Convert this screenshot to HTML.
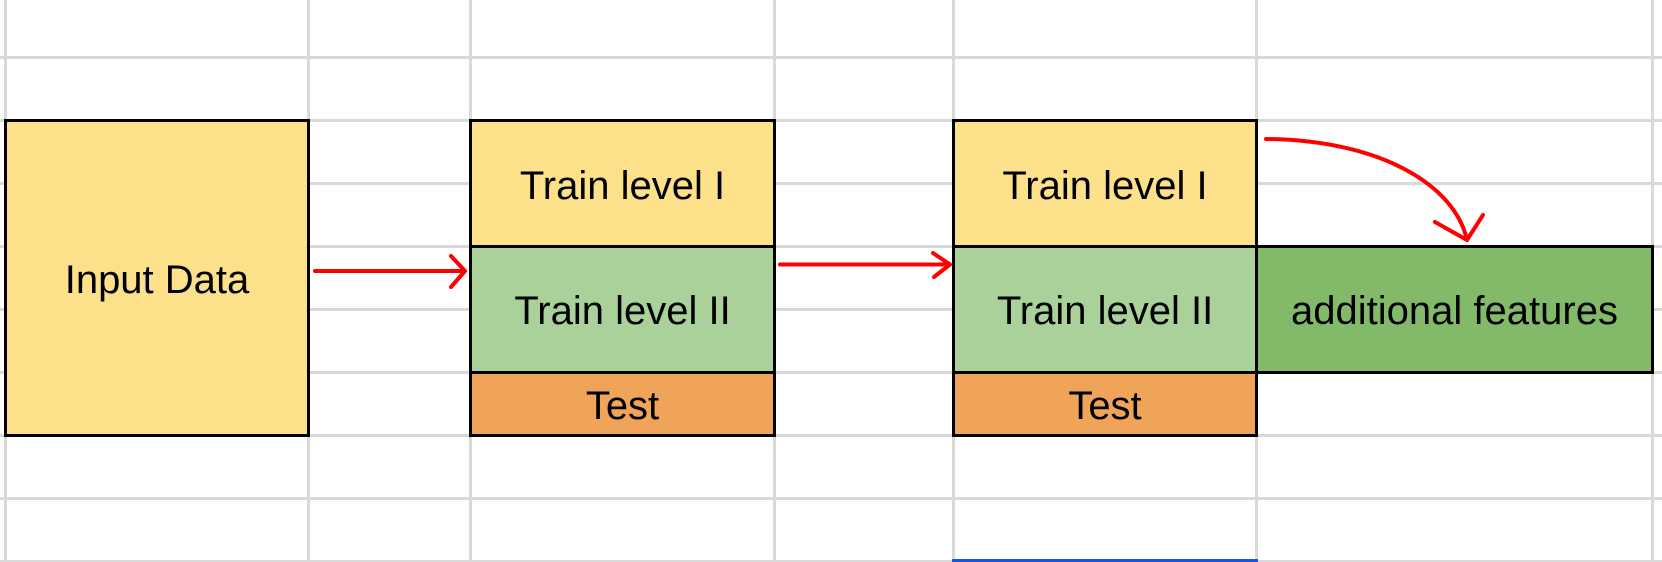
<!DOCTYPE html>
<html><head><meta charset="utf-8"><style>
html,body{margin:0;padding:0;background:#fff;}
body{width:1662px;height:562px;position:relative;overflow:hidden;font-family:"Liberation Sans",Arial,sans-serif;}
.g{position:absolute;background:#d9d9d9;}
.b{position:absolute;box-sizing:border-box;border:3px solid #000;display:flex;align-items:center;justify-content:center;font-size:40px;color:#000;padding-top:4px;}
</style></head><body>
<div class="g" style="left:4px;top:0;width:3px;height:562px"></div>
<div class="g" style="left:307px;top:0;width:3px;height:562px"></div>
<div class="g" style="left:469px;top:0;width:3px;height:562px"></div>
<div class="g" style="left:773px;top:0;width:3px;height:562px"></div>
<div class="g" style="left:952px;top:0;width:3px;height:562px"></div>
<div class="g" style="left:1255px;top:0;width:3px;height:562px"></div>
<div class="g" style="left:1651px;top:0;width:3px;height:562px"></div>
<div class="g" style="left:0;top:56px;width:1662px;height:3px"></div>
<div class="g" style="left:0;top:119px;width:1662px;height:3px"></div>
<div class="g" style="left:0;top:182px;width:1662px;height:3px"></div>
<div class="g" style="left:0;top:245px;width:1662px;height:3px"></div>
<div class="g" style="left:0;top:308px;width:1662px;height:3px"></div>
<div class="g" style="left:0;top:371px;width:1662px;height:3px"></div>
<div class="g" style="left:0;top:434px;width:1662px;height:3px"></div>
<div class="g" style="left:0;top:497px;width:1662px;height:3px"></div>
<div class="g" style="left:0;top:560px;width:1662px;height:2px"></div>
<div style="position:absolute;left:952px;top:559px;width:306px;height:3px;background:#1a56db"></div>

<div class="b" style="left:4px;top:119px;width:306px;height:318px;background:#fde08a">Input Data</div>

<div class="b" style="left:469px;top:119px;width:307px;height:130px;background:#fde08a">Train level I</div>
<div class="b" style="left:469px;top:245px;width:307px;height:129px;background:#a9d199">Train level II</div>
<div class="b" style="left:469px;top:371px;width:307px;height:66px;background:#f0a45a">Test</div>

<div class="b" style="left:952px;top:119px;width:306px;height:130px;background:#fde08a">Train level I</div>
<div class="b" style="left:952px;top:245px;width:306px;height:129px;background:#a9d199">Train level II</div>
<div class="b" style="left:952px;top:371px;width:306px;height:66px;background:#f0a45a">Test</div>

<div class="b" style="left:1255px;top:245px;width:399px;height:129px;background:#82ba6a">additional features</div>

<svg width="1662" height="562" style="position:absolute;left:0;top:0" fill="none" stroke="#f00" stroke-width="4" stroke-linecap="round" stroke-linejoin="round">
<path d="M315 271 L464 271 M451 256 L465 271 L451 287"/>
<path d="M780 264.5 L949 264.5 M933 253 L950 264.5 L934 277"/>
<path d="M1266 139 C1380 140 1455 185 1467 240 M1435 222 L1467 240 L1483 215"/>
</svg>
</body></html>
